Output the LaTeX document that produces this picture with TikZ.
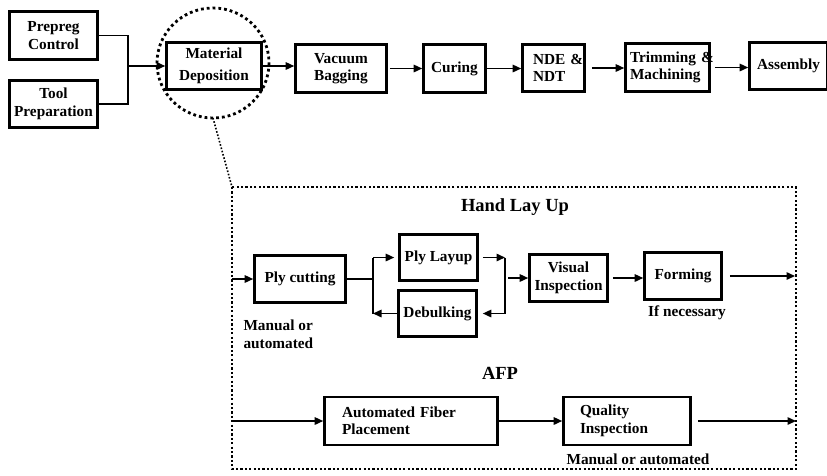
\documentclass[tikz,border=0pt]{standalone}
\usepackage{fontspec}
\setmainfont{Liberation Serif}
\usetikzlibrary{arrows.meta}
\begin{document}
\begin{tikzpicture}[x=1pt,y=-1pt,
  box/.style={draw, line width=2.6pt, inner sep=0pt, align=center,
    font=\bfseries\fontsize{15.3}{17.5}\selectfont},
  lbox/.style={box, align=left},
  conn/.style={line width=1.5pt},
  arr/.style={conn, -{Triangle[length=8.5pt,width=7.5pt]}},
  title/.style={font=\bfseries\fontsize{18.5}{21}\selectfont},
  note/.style={font=\bfseries\fontsize{15.3}{17.5}\selectfont},
  bigdots/.style={line width=2.8pt, dash pattern=on 2.8pt off 3pt},
  boxdots/.style={line width=2.2pt, dash pattern=on 2.2pt off 2.2pt},
  thindots/.style={line width=1.6pt, dash pattern=on 1.6pt off 1.8pt}
]
\useasboundingbox (0,0) rectangle (827,475);

% ---- top row
\node[box, minimum width=88pt, minimum height=48pt] (prepreg) at (53.5,35.5) {Prepreg\\Control};
\node[box, minimum width=88pt, minimum height=47pt] (tool) at (53.5,104) {Tool\\Preparation};
\node[box, minimum width=95pt, minimum height=47pt] (matdep) at (214,66) {Material\\[5pt]Deposition};
\node[box, minimum width=91pt, minimum height=48pt] (vacuum) at (341,68.5) {Vacuum\\Bagging};
\node[box, minimum width=62pt, minimum height=48pt] (curing) at (454.5,68.5) {Curing};
\node[lbox, minimum width=62pt, minimum height=47pt, text width=41pt] (nde) at (553.5,68) {\mbox{NDE \&}\\NDT};
\node[lbox, minimum width=84pt, minimum height=48pt, text width=75pt] (trim) at (667.5,67.5) {\mbox{Trimming \&}\\Machining};
\node[box, minimum width=78pt, minimum height=47pt] (assembly) at (788.5,66) {Assembly};

\coordinate (j1) at (128,66);
\draw[conn] (prepreg.east) -| (j1) |- (tool.east);
\draw[arr] (j1) -- (matdep.west);
\draw[arr] (matdep.east) -- (matdep.east -| vacuum.west);
\draw[arr] ([xshift=2pt]vacuum.east) -- (curing.west);
\draw[arr] (curing.east) -- (curing.east -| nde.west);
\draw[arr, shorten <=6pt] (nde.east) -- (nde.east -| trim.west);
\draw[arr, shorten <=4pt] (trim.east) -- (trim.east -| assembly.west);

% ---- zoom circle and detail frame
\draw[bigdots] (213,63) ellipse [x radius=56, y radius=55];
\coordinate (circbot) at (213,118);
\coordinate (frameTL) at (232,187);
\coordinate (frameBR) at (796,469);
\draw[thindots] (circbot) -- (frameTL);
\draw[boxdots] (frameTL) rectangle (frameBR);

% ---- Hand lay up
\node[title] (hlu) at (515,207) {Hand Lay Up};
\node[box, minimum width=91pt, minimum height=47pt] (plycut) at (300,279) {Ply cutting};
\node[box, minimum width=78pt, minimum height=46pt] (plylayup) at (438.5,257.5) {Ply Layup};
\node[box, minimum width=78pt, minimum height=46pt] (debulk) at (437.5,313.5) {Debulking};
\node[box, minimum width=78pt, minimum height=47pt] (visual) at (568.5,278) {Visual\\Inspection};
\node[box, minimum width=77pt, minimum height=47pt] (forming) at (683,276) {Forming};

\node[note, anchor=west, align=left] (manual1) at (240,334.5) {Manual or\\automated};
\node[note] (ifnec) at (687,313) {If necessary};

\coordinate (hin) at (232,279);
\coordinate (sp1) at (373,279);
\coordinate (sp2) at (505,278);
\coordinate (hout) at (795,276);
\draw[arr] (hin) -- (plycut.west);
\draw[conn] (plycut.east) -- (sp1);
\draw[conn] (sp1 |- plylayup.west) -- (sp1 |- debulk.west);
\draw[arr, shorten >=4pt] (sp1 |- plylayup.west) -- (plylayup.west);
\draw[arr] (debulk.west) -- (sp1 |- debulk.west);
\draw[arr, shorten <=4pt] (plylayup.east) -- (sp2 |- plylayup.east);
\draw[conn] (sp2 |- plylayup.east) -- (sp2 |- debulk.east);
\draw[arr, shorten >=5pt] (sp2 |- debulk.east) -- (debulk.east);
\draw[arr, shorten <=3pt] (sp2) -- (visual.west);
\draw[arr, shorten <=4pt] (visual.east) -- (visual.east -| forming.west);
\draw[arr, shorten <=7pt] (forming.east) -- (hout);

% ---- AFP
\node[title] (afptitle) at (500,373) {AFP};
\node[lbox, minimum width=173pt, minimum height=48pt, text width=138pt] (afp) at (411,421) {\mbox{Automated Fiber}\\Placement};
\node[lbox, minimum width=127pt, minimum height=48pt, text width=94pt] (quality) at (627,421) {Quality\\Inspection};
\node[note] (manual2) at (638,459) {Manual or automated};

\coordinate (ain) at (232,421);
\coordinate (aout) at (796,421);
\draw[arr] (ain) -- (afp.west);
\draw[arr] (afp.east) -- (quality.west);
\draw[arr, shorten <=6pt] (quality.east) -- (aout);
\end{tikzpicture}
\end{document}
